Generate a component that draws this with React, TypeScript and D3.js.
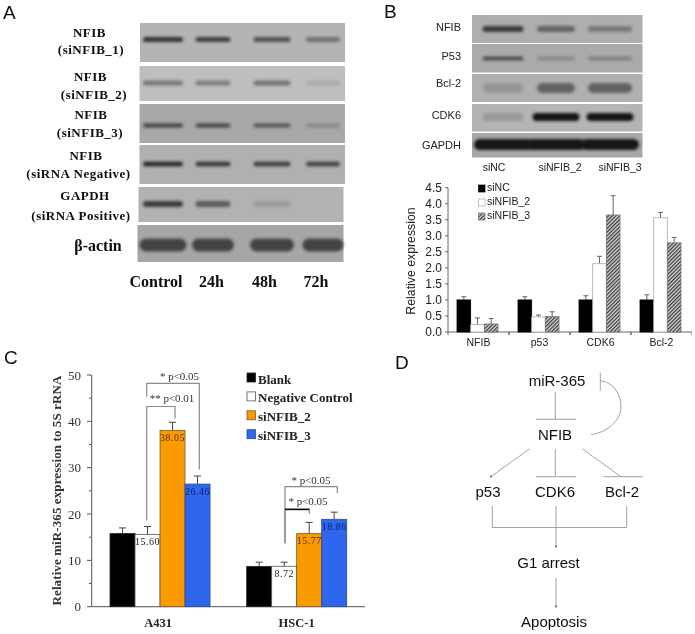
import React from "react";
import * as d3 from "d3";

// Panel B chart
const bGenes = ["NFIB", "p53", "CDK6", "Bcl-2"];
const bSeries = ["siNC", "siNFIB_2", "siNFIB_3"];
const bSiNC = [1.0, 1.0, 1.0, 1.0];
const bSi2 = [0.23, 0.47, 2.13, 3.56];
const bSi3 = [0.25, 0.48, 3.65, 2.78];
const bSiNCTop = [1.1, 1.1, 1.13, 1.16];
const bSi2Top = [0.44, 0.53, 2.36, 3.73];
const bSi3Top = [0.42, 0.63, 4.25, 2.95];
const bTicks = [0, 0.5, 1, 1.5, 2, 2.5, 3, 3.5, 4, 4.5];

// Panel C chart
const cLines = ["A431", "HSC-1"];
const cSeries = ["Blank", "Negative Control", "siNFIB_2", "siNFIB_3"];
const cBlank = [15.8, 8.7];
const cNeg = [15.6, 8.72];
const cSi2 = [38.05, 15.77];
const cSi3 = [26.46, 18.86];
const cBlankTop = [17, 9.6];
const cNegTop = [17.3, 9.6];
const cSi2Top = [39.8, 18.2];
const cSi3Top = [28.2, 20.4];
const cNegLabels = ["15.60", "8.72"];
const cSi2Labels = ["38.05", "15.77"];
const cSi3Labels = ["26.46", "18.86"];
const cTicks = [0, 10, 20, 30, 40, 50];
const cMinorTicks = [5, 15, 25, 35, 45];

// Panel A blots: band darkness by lane
const aTimes = ["Control", "24h", "48h", "72h"];
const aRows = [
  { l1: "NFIB", l2: "(siNFIB_1)", levels: [0.8, 0.72, 0.62, 0.42], bg: "#b4b4b4" },
  { l1: "NFIB", l2: "(siNFIB_2)", levels: [0.42, 0.38, 0.45, 0.1], bg: "#bebebe" },
  { l1: "NFIB", l2: "(siNFIB_3)", levels: [0.62, 0.6, 0.5, 0.2], bg: "#a8a8a8" },
  { l1: "NFIB", l2: "(siRNA Negative)", levels: [0.9, 0.78, 0.75, 0.7], bg: "#b0b0b0" },
  { l1: "GAPDH", l2: "(siRNA Positive)", levels: [0.75, 0.55, 0.15, 0], bg: "#b2b2b2" },
];
const aActinLevels = [0.95, 0.95, 0.95, 0.95];

// Panel B blots
const bLanes = ["siNC", "siNFIB_2", "siNFIB_3"];
const bRows = [
  { name: "NFIB", levels: [0.75, 0.48, 0.35], bg: "#aeaeae" },
  { name: "P53", levels: [0.62, 0.22, 0.28], bg: "#aaaaaa" },
  { name: "Bcl-2", levels: [0.16, 0.5, 0.5], bg: "#b0b0b0" },
  { name: "CDK6", levels: [0.16, 1, 1], bg: "#b4b4b4" },
  { name: "GAPDH", levels: [1, 1, 1], bg: "#a8a8a8" },
];

const sans = "'Liberation Sans', Arial, sans-serif";
const serif = "'Liberation Serif', 'Times New Roman', serif";

const xB = d3.scaleBand<string>().domain(bGenes).range([448, 692]);
const xBInner = d3.scaleBand<string>().domain(bSeries).range([0, 41]);
const yB = d3.scaleLinear().domain([0, 4.5]).range([332, 187.7]);

const xC = d3.scaleBand<string>().domain(cLines).range([91.7, 365]);
const xCInner = d3.scaleBand<string>().domain(cSeries).range([0, 100]);
const yC = d3.scaleLinear().domain([0, 50]).range([606.7, 375]);

const aLaneX = d3.scaleOrdinal<string, number>().domain(aTimes).range([163, 213, 272, 323]);
const bLaneX = d3.scaleOrdinal<string, number>().domain(bLanes).range([503, 556, 610]);

const bFill = ["#000", "#fff", "url(#hatch)"];
const bStroke = ["#000", "#aaa", "#777"];
const cFill = ["#000", "#fff", "#f99a06", "#2f66ee"];
const cStroke = ["#222", "#555", "#7a5a20", "#2a4a90"];
const cLabelColor = ["#000", "#222", "#5a3200", "#0c2468"];

const bValues = [bSiNC, bSi2, bSi3];
const bTops = [bSiNCTop, bSi2Top, bSi3Top];
const cValues = [cBlank, cNeg, cSi2, cSi3];
const cTops = [cBlankTop, cNegTop, cSi2Top, cSi3Top];
const cBarLabels = [null, cNegLabels, cSi2Labels, cSi3Labels];

const aGeom = [
  { x: 140, y: 23, w: 205, h: 39, band: 39.5, th: 5 },
  { x: 139.5, y: 66, w: 205.5, h: 35, band: 83, th: 5 },
  { x: 139.5, y: 104, w: 205.5, h: 39, band: 125.5, th: 4.5 },
  { x: 139.5, y: 145, w: 205.5, h: 39, band: 164, th: 4.5 },
  { x: 138.5, y: 187, w: 205, h: 35, band: 204, th: 6 },
];
const bGeom = [
  { y: 15, h: 28, band: 29, th: 6 },
  { y: 44, h: 28.5, band: 58.5, th: 4 },
  { y: 74, h: 28, band: 88, th: 10 },
  { y: 104, h: 27.5, band: 117, th: 8 },
  { y: 133, h: 24.5, band: 144.5, th: 11 },
];
const laneW = [40, 35, 37, 34];

function Band({ cx, cy, w, th, level }: { cx: number; cy: number; w: number; th: number; level: number }) {
  if (level <= 0) return null;
  return <rect x={cx - w / 2} y={cy - th / 2} width={w} height={th} rx={th / 2} fill="#151515" opacity={level} filter="url(#blurBand)" />;
}

export default function App() {
  return (
    <svg width={695} height={634} viewBox="0 0 695 634" style={{ position: "absolute", left: 0, top: 0, background: "#fff" }}>
      <defs>
        <filter id="blurBand" x="-20%" y="-150%" width="140%" height="400%">
          <feGaussianBlur stdDeviation="1.5" />
        </filter>
        <filter id="soft" x="0" y="0" width="100%" height="100%">
          <feGaussianBlur stdDeviation="0.35" />
        </filter>
        <pattern id="hatch" width="2.6" height="2.6" patternUnits="userSpaceOnUse" patternTransform="rotate(-45)">
          <rect width="2.6" height="2.6" fill="#d8d8d8" />
          <rect width="2.6" height="1.2" fill="#333" />
        </pattern>
      </defs>

      <g filter="url(#soft)">
        {/* Panel letters */}
        <g fontFamily={sans} fontSize={19} fill="#111">
          <text x={3} y={19}>A</text>
          <text x={384} y={18}>B</text>
          <text x={4} y={364}>C</text>
          <text x={395} y={369}>D</text>
        </g>

        {/* Panel A */}
        {aRows.map((r, i) => {
          const g = aGeom[i];
          return (
            <g key={i}>
              <rect x={g.x} y={g.y} width={g.w} height={g.h} fill={r.bg} />
              {r.levels.map((lv, j) => (
                <Band key={j} cx={aLaneX(aTimes[j])} cy={g.band} w={laneW[j]} th={g.th} level={lv} />
              ))}
            </g>
          );
        })}
        <rect x={137.5} y={225} width={206} height={37} fill="#a6a6a6" />
        {aActinLevels.map((lv, j) => (
          <Band key={j} cx={aLaneX(aTimes[j])} cy={245} w={laneW[j] + 7} th={13} level={lv * 0.72} />
        ))}
        <g fontFamily={serif} fontWeight="bold" fontSize={13} letterSpacing={0.5} fill="#111" textAnchor="middle">
          {[["NFIB", 89.5, 37], ["(siNFIB_1)", 91, 54], ["NFIB", 90.5, 81], ["(siNFIB_2)", 94, 99], ["NFIB", 91, 119], ["(siNFIB_3)", 90, 137], ["NFIB", 86, 160], ["(siRNA Negative)", 78.5, 178], ["GAPDH", 85, 200], ["(siRNA Positive)", 81, 220]].map(([t, x, y], i) => (
            <text key={i} x={x as number} y={y as number}>{t as string}</text>
          ))}
        </g>
        <text x={98} y={251} fontFamily={serif} fontWeight="bold" fontSize={16} fill="#111" textAnchor="middle">β-actin</text>
        <g fontFamily={serif} fontWeight="bold" fontSize={16} fill="#111" textAnchor="middle">
          {aTimes.map((t, i) => (
            <text key={t} x={[156, 211.5, 264.5, 316][i]} y={287}>{t}</text>
          ))}
        </g>

        {/* Panel B blots */}
        {bRows.map((r, i) => {
          const g = bGeom[i];
          return (
            <g key={r.name}>
              <rect x={472} y={g.y} width={170.5} height={g.h} fill={r.bg} />
              {r.levels.map((lv, j) => (
                <Band key={j} cx={bLaneX(bLanes[j])} cy={g.band} w={i === 4 ? 58 : i === 3 && j > 0 ? 47 : [41, 38, 44][j]} th={g.th} level={lv} />
              ))}
            </g>
          );
        })}
        <g fontFamily={sans} fontSize={11} fill="#222" textAnchor="end">
          {bRows.map((r, i) => (
            <text key={r.name} x={461} y={[31, 60, 87, 119, 149][i]}>{r.name}</text>
          ))}
        </g>
        <g fontFamily={sans} fontSize={10.5} fill="#222" textAnchor="middle">
          {bLanes.map((t, i) => (
            <text key={t} x={[494, 560, 620][i]} y={171}>{t}</text>
          ))}
        </g>

        {/* Panel B chart */}
        <line x1={448} x2={448} y1={yB(4.5)} y2={yB(0)} stroke="#666" />
        <line x1={448} x2={692} y1={yB(0)} y2={yB(0)} stroke="#666" />
        {bTicks.map((t) => (
          <g key={t}>
            <line x1={445} x2={448} y1={yB(t)} y2={yB(t)} stroke="#666" />
            <text x={442} y={yB(t) + 4} textAnchor="end" fontFamily={sans} fontSize={12} fill="#222">{t.toFixed(1)}</text>
          </g>
        ))}
        {bGenes.map((g, i) => (
          <g key={g}>
            <line x1={xB(g)!} x2={xB(g)!} y1={332} y2={335} stroke="#666" />
            <line x1={xB(g)! + xB.bandwidth()} x2={xB(g)! + xB.bandwidth()} y1={332} y2={335} stroke="#666" />
            <text x={xB(g)! + xB.bandwidth() / 2} y={346} textAnchor="middle" fontFamily={sans} fontSize={10.5} fill="#222">{g}</text>
            {bSeries.map((s, k) => {
              const x = xB(g)! + xB.bandwidth() / 2 - 21.5 + xBInner(s)!;
              const w = xBInner.bandwidth();
              const mid = x + w / 2;
              return (
                <g key={s}>
                  <line x1={mid} x2={mid} y1={yB(bTops[k][i])} y2={yB(bValues[k][i])} stroke="#666" />
                  <line x1={mid - 2.5} x2={mid + 2.5} y1={yB(bTops[k][i])} y2={yB(bTops[k][i])} stroke="#666" />
                  <rect x={x} y={yB(bValues[k][i])} width={w} height={yB(0) - yB(bValues[k][i])} fill={bFill[k]} stroke={bStroke[k]} strokeWidth={0.8} />
                </g>
              );
            })}
          </g>
        ))}
        <text transform={`translate(415,261) rotate(-90)`} textAnchor="middle" fontFamily={sans} fontSize={12.3} fill="#222">Relative expression</text>
        {bSeries.map((s, k) => {
          const y = 191 + k * 14;
          return (
            <g key={s}>
              <rect x={478.5} y={y - 6} width={6.5} height={7} fill={bFill[k]} stroke={bStroke[k]} strokeWidth={0.7} />
              <text x={487} y={y} fontFamily={sans} fontSize={10.5} fill="#222">{s}</text>
            </g>
          );
        })}

        {/* Panel C chart */}
        <line x1={91.7} x2={91.7} y1={yC(50)} y2={yC(0)} stroke="#555" />
        <line x1={91.7} x2={365} y1={yC(0)} y2={yC(0)} stroke="#555" />
        {cTicks.map((t) => (
          <g key={t}>
            <line x1={87} x2={91.7} y1={yC(t)} y2={yC(t)} stroke="#555" />
            <text x={81} y={yC(t) + 4.5} textAnchor="end" fontFamily={serif} fontSize={13} fill="#333">{t}</text>
          </g>
        ))}
        {cMinorTicks.map((t) => (
          <line key={t} x1={89} x2={91.7} y1={yC(t)} y2={yC(t)} stroke="#555" />
        ))}
        {cLines.map((c, i) => (
          <g key={c}>
            <text x={xC(c)! + xC.bandwidth() / 2 - 2 + i * 2} y={627} textAnchor="middle" fontFamily={serif} fontWeight="bold" fontSize={12.5} fill="#222">{c}</text>
            {cSeries.map((s, k) => {
              const x = xC(c)! + xC.bandwidth() / 2 - 50 + xCInner(s)!;
              const w = xCInner.bandwidth();
              const mid = x + w / 2;
              const lab = cBarLabels[k];
              return (
                <g key={s}>
                  <line x1={mid} x2={mid} y1={yC(cTops[k][i])} y2={yC(cValues[k][i])} stroke="#444" />
                  <line x1={mid - 3.5} x2={mid + 3.5} y1={yC(cTops[k][i])} y2={yC(cTops[k][i])} stroke="#444" />
                  <rect x={x} y={yC(cValues[k][i])} width={w} height={yC(0) - yC(cValues[k][i])} fill={cFill[k]} stroke={cStroke[k]} strokeWidth={0.8} />
                  {lab && (
                    <text x={mid} y={yC(cValues[k][i]) + 10.5} textAnchor="middle" fontFamily={serif} fontSize={10} letterSpacing={0.5} fill={cLabelColor[k]}>{lab[i]}</text>
                  )}
                </g>
              );
            })}
          </g>
        ))}
        <text transform={`translate(61,490.5) rotate(-90)`} textAnchor="middle" fontFamily={serif} fontWeight="bold" fontSize={13} letterSpacing={0.1} fill="#333">Relative miR-365 expression to 5S rRNA</text>
        {cSeries.map((s, k) => {
          const y = 382.5 + k * 18.9;
          return (
            <g key={s}>
              <rect x={247} y={y - 9.5} width={8.5} height={9} fill={cFill[k]} stroke={cStroke[k]} strokeWidth={0.8} />
              <text x={258} y={y + 1} fontFamily={serif} fontWeight="bold" fontSize={13} fill="#222">{s}</text>
            </g>
          );
        })}
        {/* Significance brackets */}
        <g fill="none" stroke="#8a8a8a" strokeWidth={1.2}>
          <path d={`M146.7 ${yC(45.3)}V${yC(48.2)}H199.3V${yC(29.6)}`} />
          <path d={`M146.7 ${yC(18.6)}V${yC(43.2)}H175V${yC(40.6)}`} />
          <path d={`M285 ${yC(13.7)}V${yC(25.9)}H337.3V${yC(24.5)}`} />
          <path d={`M285 ${yC(13.7)}V${yC(21)}H309.3V${yC(20)}`} />
        </g>
        <line x1={285} x2={309.3} y1={yC(21)} y2={yC(21)} stroke="#111" strokeWidth={1.6} />
        <g fontFamily={serif} fontSize={11} fill="#333" textAnchor="middle">
          <text x={179.5} y={380}>* p&lt;0.05</text>
          <text x={172} y={402}>** p&lt;0.01</text>
          <text x={311} y={484}>* p&lt;0.05</text>
          <text x={308} y={505}>* p&lt;0.05</text>
        </g>

        {/* Panel D */}
        <g fontFamily={sans} fontSize={15} fill="#111" textAnchor="middle">
          <text x={557} y={386}>miR-365</text>
          <text x={555} y={440}>NFIB</text>
          <text x={488} y={497}>p53</text>
          <text x={555} y={497}>CDK6</text>
          <text x={622} y={497}>Bcl-2</text>
          <text x={548.5} y={568}>G1 arrest</text>
          <text x={554} y={627}>Apoptosis</text>
        </g>
        <g fill="none" stroke="#999" strokeWidth={0.9}>
          <path d="M555.3 391.7V419.3M536 419.3H576" />
          <path d="M600.3 372.7V390.7" />
          <path d="M600.3 380.7C614 382 621 395 621 407C621 421 606 433 591 434.5" />
          <path d="M529.5 449L491 476.5" />
          <path d="M555.3 449V476.7M536 476.7H576" />
          <path d="M582.5 449L621 476.7M603.5 476.7H643" />
          <path d="M492.3 506V527.5H626.7V506" />
          <path d="M556 506V546" />
          <path d="M556 578V606" />
        </g>
        <g fill="#555">
          <circle cx={491} cy={476.5} r={1} />
          <circle cx={556} cy={546.5} r={1} />
          <circle cx={556} cy={606.5} r={1} />
        </g>
      </g>
    </svg>
  );
}
